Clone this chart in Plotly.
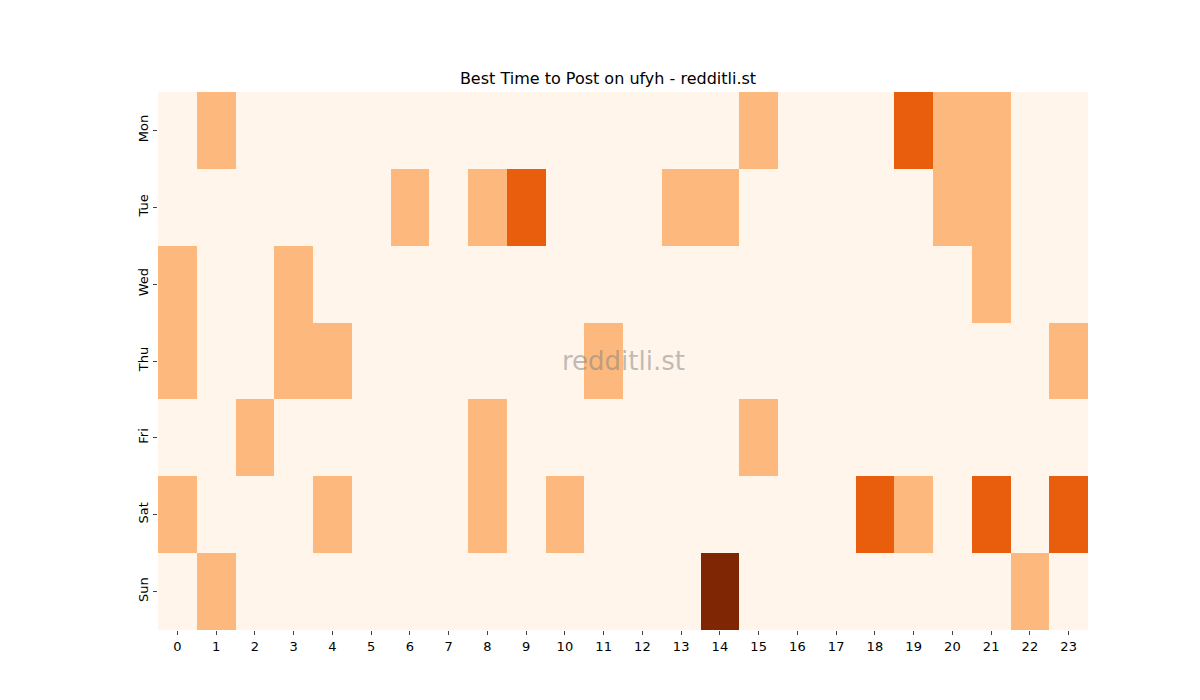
import plotly.graph_objects as go

days = ["Mon", "Tue", "Wed", "Thu", "Fri", "Sat", "Sun"]
hours = list(range(24))
mon = [0,1,0,0,0,0,0,0,0,0,0,0,0,0,0,1,0,0,0,2,1,1,0,0]
tue = [0,0,0,0,0,0,1,0,1,2,0,0,0,1,1,0,0,0,0,0,1,1,0,0]
wed = [1,0,0,1,0,0,0,0,0,0,0,0,0,0,0,0,0,0,0,0,0,1,0,0]
thu = [1,0,0,1,1,0,0,0,0,0,0,1,0,0,0,0,0,0,0,0,0,0,0,1]
fri = [0,0,1,0,0,0,0,0,1,0,0,0,0,0,0,1,0,0,0,0,0,0,0,0]
sat = [1,0,0,0,1,0,0,0,1,0,1,0,0,0,0,0,0,0,2,1,0,2,0,2]
sun = [0,1,0,0,0,0,0,0,0,0,0,0,0,0,3,0,0,0,0,0,0,0,1,0]
z = [mon, tue, wed, thu, fri, sat, sun]

colorscale = [[0, "#fff5eb"], [0.1666, "#fff5eb"], [0.1667, "#fdb97d"], [0.5, "#fdb97d"],
              [0.5001, "#e95e0d"], [0.8333, "#e95e0d"], [0.8334, "#7f2704"], [1, "#7f2704"]]

fig = go.Figure(go.Heatmap(z=z, x=hours, y=days, zmin=0, zmax=3, colorscale=colorscale,
                           showscale=False, hoverongaps=False))
fig.update_layout(
    width=1200, height=700, plot_bgcolor="white", paper_bgcolor="white",
    margin=dict(l=150, r=120, t=84, b=78),
    title=dict(text="Best Time to Post on ufyh - redditli.st", x=0.5, xanchor="center",
               y=1 - 70/700, yanchor="middle", font=dict(family="DejaVu Sans", size=16, color="black")),
    font=dict(family="DejaVu Sans", size=13, color="black"),
    xaxis=dict(tickmode="array", tickvals=hours, ticktext=[str(h) for h in hours],
               ticks="outside", ticklen=4, showgrid=False, zeroline=False, range=[-0.5, 23.5]),
    yaxis=dict(autorange="reversed", tickangle=-90, ticks="outside", ticklen=4,
               showgrid=False, zeroline=False),
    annotations=[dict(text="redditli.st", x=0.5, y=0.5, xref="paper", yref="paper",
                      showarrow=False, font=dict(family="DejaVu Sans", size=26, color="rgba(128,128,128,0.5)"))],
)
fig.write_html("out.html")
